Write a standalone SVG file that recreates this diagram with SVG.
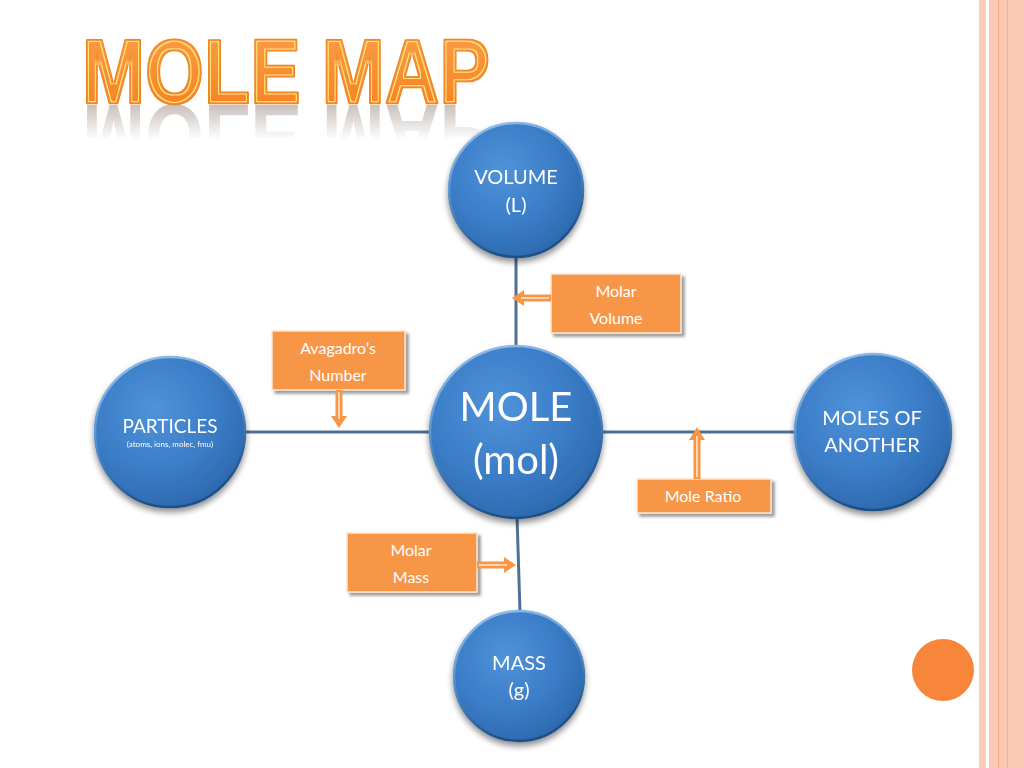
<svg xmlns="http://www.w3.org/2000/svg" xmlns:xlink="http://www.w3.org/1999/xlink" width="1024" height="768" viewBox="0 0 1024 768">
<defs>
<style>
.lbl{font-family:Lato,"Open Sans","Liberation Sans",sans-serif;fill:#ffffff;text-anchor:middle}
.cl{font-family:Lato,"Open Sans","Liberation Sans",sans-serif;fill:#ffffff;text-anchor:middle;font-size:16px}
.conn{stroke:#4e6f96;stroke-width:3;fill:none}
.box{fill:#f79646;stroke:#fde3cf;stroke-width:1.5}
.arr{fill:#f79646}
.arrin{stroke:#ffffff;stroke-width:1.2;fill:none}
.title{font-family:"Liberation Sans",Arial,sans-serif;font-weight:bold;font-size:90px}
</style>
<radialGradient id="ball" cx="0.4" cy="0.35" r="0.7">
<stop offset="0" stop-color="#4f93da"/>
<stop offset="0.6" stop-color="#3a7cc6"/>
<stop offset="1" stop-color="#2c68ad"/>
</radialGradient>
<linearGradient id="rim" x1="0" y1="0" x2="0.3" y2="1">
<stop offset="0" stop-color="#9cc4ec"/>
<stop offset="0.5" stop-color="#5a93d0"/>
<stop offset="1" stop-color="#1f4f86"/>
</linearGradient>
<linearGradient id="tfill" x1="0" y1="0" x2="0" y2="1">
<stop offset="0" stop-color="#fba04a"/>
<stop offset="1" stop-color="#f47f1c"/>
</linearGradient>
<linearGradient id="fadeg" gradientUnits="userSpaceOnUse" x1="0" y1="104" x2="0" y2="140">
<stop offset="0" stop-color="#ffffff" stop-opacity="0.55"/>
<stop offset="1" stop-color="#ffffff" stop-opacity="0"/>
</linearGradient>
<mask id="fade" maskUnits="userSpaceOnUse" x="0" y="100" width="600" height="50">
<rect x="0" y="100" width="600" height="50" fill="url(#fadeg)"/>
</mask>
<filter id="inner" x="-5%" y="-20%" width="110%" height="140%">
<feMorphology in="SourceAlpha" operator="erode" radius="2" result="e1"/>
<feMorphology in="SourceAlpha" operator="erode" radius="2.9" result="e2"/>
<feComposite in="e1" in2="e2" operator="out" result="ring"/>
<feFlood flood-color="#ffe27a"/>
<feComposite in2="ring" operator="in" result="yring"/>
<feMerge><feMergeNode in="SourceGraphic"/><feMergeNode in="yring"/></feMerge>
</filter>
<filter id="shadow" x="-20%" y="-20%" width="140%" height="150%">
<feGaussianBlur in="SourceAlpha" stdDeviation="3"/>
<feOffset dx="0" dy="4" result="b"/>
<feComponentTransfer><feFuncA type="linear" slope="0.45"/></feComponentTransfer>
<feMerge><feMergeNode/><feMergeNode in="SourceGraphic"/></feMerge>
</filter>
<filter id="bshadow" x="-10%" y="-10%" width="125%" height="130%">
<feGaussianBlur in="SourceAlpha" stdDeviation="1.5"/>
<feOffset dx="3" dy="3" result="b"/>
<feComponentTransfer><feFuncA type="linear" slope="0.4"/></feComponentTransfer>
<feMerge><feMergeNode/><feMergeNode in="SourceGraphic"/></feMerge>
</filter>
</defs>

<rect x="0" y="0" width="1024" height="768" fill="#ffffff"/>

<!-- right border -->
<g id="border">
<rect x="979" y="0" width="7" height="768" fill="#fbcdb9"/>
<rect x="989" y="0" width="35" height="768" fill="#fbc8b3"/>
<line x1="998.5" y1="0" x2="998.5" y2="768" stroke="#f2a587" stroke-width="1"/>
<line x1="1007.5" y1="0" x2="1007.5" y2="768" stroke="#f4ad92" stroke-width="1"/>
</g>
<circle id="dot" cx="943" cy="670" r="31" fill="#f7863a"/>

<!-- title -->
<g id="title">
<g mask="url(#fade)">
<use xlink:href="#ttl" href="#ttl" transform="translate(0,208) scale(1,-1)" fill="#9a8a80" stroke="none"/>
</g>
<g filter="url(#inner)" fill="url(#tfill)" stroke="#ee8526" stroke-width="2.5" stroke-linejoin="round">
<text id="ttl" class="title" x="82" y="103" textLength="408" lengthAdjust="spacingAndGlyphs" paint-order="stroke">MOLE MAP</text>
</g>
</g>

<!-- connectors -->
<g id="connectors">
<line class="conn" x1="245" y1="432" x2="795" y2="432"/>
<line class="conn" x1="516" y1="256" x2="516" y2="348"/>
<line class="conn" x1="517" y1="516" x2="520" y2="612"/>
</g>

<!-- nodes -->
<g id="volume" filter="url(#shadow)">
<circle cx="516" cy="190" r="67" fill="url(#ball)" stroke="url(#rim)" stroke-width="2.5"/>
<text class="lbl" x="516" y="184" font-size="20">VOLUME</text>
<text class="lbl" x="516" y="212" font-size="20">(L)</text>
</g>
<g id="mole" filter="url(#shadow)">
<circle cx="516" cy="432" r="86" fill="url(#ball)" stroke="url(#rim)" stroke-width="2.5"/>
<text class="lbl" x="516" y="421" font-size="40">MOLE</text>
<text class="lbl" x="516" y="474" font-size="40">(mol)</text>
</g>
<g id="particles" filter="url(#shadow)">
<circle cx="170" cy="432" r="75" fill="url(#ball)" stroke="url(#rim)" stroke-width="2.5"/>
<text class="lbl" x="170" y="433" font-size="19">PARTICLES</text>
<text class="lbl" x="170" y="447" font-size="8">(atoms, ions, molec, fmu)</text>
</g>
<g id="moles-of-another" filter="url(#shadow)">
<circle cx="873" cy="432" r="78" fill="url(#ball)" stroke="url(#rim)" stroke-width="2.5"/>
<text class="lbl" x="872" y="425" font-size="20">MOLES OF</text>
<text class="lbl" x="872" y="452" font-size="20">ANOTHER</text>
</g>
<g id="mass" filter="url(#shadow)">
<circle cx="519" cy="676" r="65" fill="url(#ball)" stroke="url(#rim)" stroke-width="2.5"/>
<text class="lbl" x="519" y="670" font-size="20">MASS</text>
<text class="lbl" x="519" y="697" font-size="20">(g)</text>
</g>

<!-- callouts -->
<g id="molar-volume">
<rect class="box" x="551" y="274" width="130" height="59" filter="url(#bshadow)"/>
<text class="cl" x="616" y="297">Molar</text>
<text class="cl" x="616" y="324">Volume</text>
<polygon class="arr" points="551,294.5 524,294.5 524,290 512,298 524,306 524,301.5 551,301.5"/>
<line class="arrin" x1="521" y1="298" x2="549" y2="298"/>
</g>
<g id="avagadro">
<rect class="box" x="272" y="331" width="133" height="59" filter="url(#bshadow)"/>
<text class="cl" x="338" y="354">Avagadro’s</text>
<text class="cl" x="338" y="381">Number</text>
<polygon class="arr" points="335.5,390 335.5,416 331,416 339,428 347,416 342.5,416 342.5,390"/>
<line class="arrin" x1="339" y1="392" x2="339" y2="419"/>
</g>
<g id="mole-ratio">
<rect class="box" x="637" y="479" width="134" height="34" filter="url(#bshadow)"/>
<text class="cl" x="703" y="502">Mole Ratio</text>
<polygon class="arr" points="693.5,479 693.5,440 689,440 697,427 705,440 700.5,440 700.5,479"/>
<line class="arrin" x1="697" y1="436" x2="697" y2="477"/>
</g>
<g id="molar-mass">
<rect class="box" x="347" y="533" width="130" height="59" filter="url(#bshadow)"/>
<text class="cl" x="411" y="556">Molar</text>
<text class="cl" x="411" y="583">Mass</text>
<polygon class="arr" points="477,561.5 504,561.5 504,557 516,565 504,573 504,568.5 477,568.5"/>
<line class="arrin" x1="479" y1="565" x2="507" y2="565"/>
</g>
</svg>
